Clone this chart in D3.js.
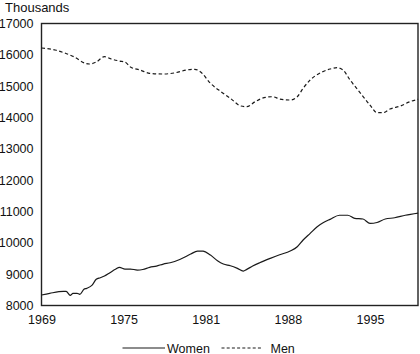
<!DOCTYPE html>
<html>
<head>
<meta charset="utf-8">
<script src="https://cdn.jsdelivr.net/npm/d3@7"></script>
<style>
  html, body { margin: 0; padding: 0; background: #fff; }
  svg { display: block; }
  text { font-family: "Liberation Sans", Arial, Helvetica, sans-serif; fill: #111; }
</style>
</head>
<body>
<svg id="chart" width="420" height="354"></svg>
<script>
// ---- data ----
const yTicks = [8000, 9000, 10000, 11000, 12000, 13000, 14000, 15000, 16000, 17000];
const xTickYears = [1969, 1975, 1981, 1988, 1995];
const seriesNames = ["Women", "Men"];
const yUnit = "Thousands";

const womenYears = [1969.0, 1969.6, 1970.6, 1970.8, 1971.1, 1971.3, 1971.6, 1971.8, 1972.1, 1972.3, 1972.7, 1973.0, 1973.3, 1973.6, 1974.0, 1974.4, 1974.7, 1975.1, 1975.5, 1976.0, 1976.4, 1976.9, 1977.4, 1977.9, 1978.4, 1979.1, 1979.9, 1980.4, 1980.8, 1981.4, 1982.0, 1982.5, 1983.1, 1983.7, 1984.2, 1984.5, 1985.0, 1985.6, 1986.5, 1987.3, 1988.2, 1988.8, 1989.3, 1989.9, 1990.5, 1991.0, 1991.6, 1992.4, 1993.1, 1993.7, 1994.4, 1995.0, 1995.6, 1996.3, 1997.1, 1998.0, 1999.1];
const womenValues = [8334, 8388, 8452, 8452, 8324, 8388, 8388, 8356, 8516, 8548, 8653, 8835, 8886, 8940, 9046, 9154, 9218, 9164, 9164, 9132, 9150, 9218, 9259, 9323, 9365, 9470, 9642, 9738, 9738, 9610, 9428, 9323, 9270, 9186, 9100, 9154, 9259, 9365, 9505, 9620, 9738, 9875, 10090, 10303, 10515, 10640, 10750, 10880, 10880, 10780, 10760, 10620, 10650, 10760, 10800, 10880, 10950];

const menYears = [1969.0, 1970.0, 1970.7, 1971.4, 1972.2, 1972.5, 1973.0, 1973.6, 1974.1, 1974.7, 1975.1, 1975.5, 1976.2, 1976.9, 1977.9, 1978.8, 1979.6, 1980.2, 1980.6, 1981.4, 1982.3, 1983.1, 1984.0, 1984.5, 1985.2, 1986.1, 1986.7, 1987.3, 1988.2, 1988.8, 1989.3, 1989.9, 1990.8, 1991.6, 1992.2, 1992.7, 1993.3, 1994.2, 1995.0, 1995.6, 1996.1, 1996.7, 1997.6, 1998.4, 1999.1];
const menValues = [16218, 16154, 16058, 15931, 15730, 15707, 15771, 15940, 15867, 15803, 15771, 15611, 15516, 15410, 15388, 15430, 15516, 15538, 15461, 15091, 14823, 14612, 14367, 14344, 14504, 14644, 14663, 14590, 14558, 14663, 14932, 15197, 15430, 15548, 15589, 15516, 15197, 14772, 14398, 14153, 14153, 14271, 14367, 14504, 14580];

// ---- layout ----
const mLeft = 41.5, mRight = 418, mTop = 23.5, mBottom = 305.5;
const svg = d3.select("#chart");

const step = (370 - mLeft) / (xTickYears.length - 1);
const x = d3.scaleLinear()
  .domain(xTickYears)
  .range(xTickYears.map((d, i) => mLeft + i * step));
const y = d3.scaleLinear().domain([8000, 17000]).range([mBottom, mTop]);

// frame
svg.append("rect")
  .attr("x", mLeft).attr("y", mTop)
  .attr("width", mRight - mLeft).attr("height", mBottom - mTop)
  .attr("fill", "none").attr("stroke", "#222").attr("stroke-width", 1.4);

// y axis labels
const yAxis = d3.axisLeft(y).tickValues(yTicks).tickSize(0).tickPadding(8).tickFormat(d3.format("d"));
const gy = svg.append("g").attr("transform", `translate(${mLeft},0)`).call(yAxis);
gy.select(".domain").remove();
gy.selectAll("text").style("font-size", "12.5px").attr("fill", "#111")
  .style("font-family", '"Liberation Sans", Arial, sans-serif');

// x axis labels
const xAxis = d3.axisBottom(x).tickValues(xTickYears).tickSize(0).tickPadding(10).tickFormat(d3.format("d"));
const gx = svg.append("g").attr("transform", `translate(0,${mBottom})`).call(xAxis);
gx.select(".domain").remove();
gx.selectAll("text").style("font-size", "12.5px").attr("fill", "#111")
  .style("font-family", '"Liberation Sans", Arial, sans-serif');

// unit label
svg.append("text").attr("x", 5).attr("y", 11.5)
  .style("font-size", "13px").text(yUnit);

// lines
const line = d3.line().x(d => x(d[0])).y(d => y(d[1])).curve(d3.curveMonotoneX);
const women = womenYears.map((yr, i) => [yr, womenValues[i]]);
const men = menYears.map((yr, i) => [yr, menValues[i]]);

svg.append("path").datum(women).attr("d", line)
  .attr("fill", "none").attr("stroke", "#1a1a1a").attr("stroke-width", 1.2);
svg.append("path").datum(men).attr("d", line)
  .attr("fill", "none").attr("stroke", "#1a1a1a").attr("stroke-width", 1.2)
  .attr("stroke-dasharray", "3.5,2.5");

// legend
const legY = 348;
const leg = [
  { name: seriesNames[0], x1: 122.5, x2: 165, tx: 167, dash: null },
  { name: seriesNames[1], x1: 221.5, x2: 263, tx: 270.5, dash: "3,2.2" }
];
leg.forEach(l => {
  svg.append("line").attr("x1", l.x1).attr("x2", l.x2).attr("y1", legY).attr("y2", legY)
    .attr("stroke", "#1a1a1a").attr("stroke-width", 1.1)
    .attr("stroke-dasharray", l.dash);
  svg.append("text").attr("x", l.tx).attr("y", legY + 4.5)
    .style("font-size", "12.5px").text(l.name);
});
</script>
</body>
</html>
